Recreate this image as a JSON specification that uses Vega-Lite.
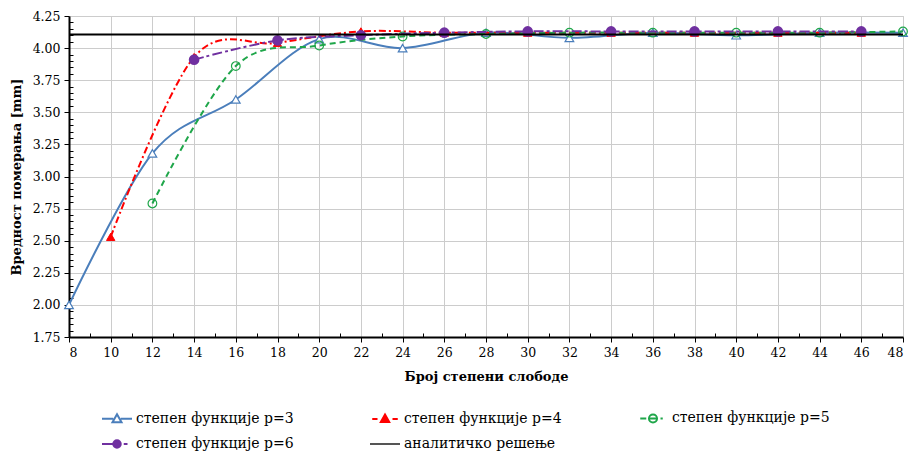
{
  "$schema": "https://vega.github.io/schema/vega-lite/v6.json",
  "width": 834,
  "height": 321,
  "autosize": {"type": "none"},
  "padding": {"left": 69, "top": 16, "right": 10, "bottom": 117},
  "background": "white",
  "data": {
    "values": [
      {"series": "степен функције p=3", "x": 8, "y": 2.0},
      {"series": "степен функције p=3", "x": 12, "y": 3.18},
      {"series": "степен функције p=3", "x": 16, "y": 3.6},
      {"series": "степен функције p=3", "x": 20, "y": 4.07},
      {"series": "степен функције p=3", "x": 24, "y": 4.0},
      {"series": "степен функције p=3", "x": 28, "y": 4.12},
      {"series": "степен функције p=3", "x": 32, "y": 4.08},
      {"series": "степен функције p=3", "x": 36, "y": 4.12},
      {"series": "степен функције p=3", "x": 40, "y": 4.1},
      {"series": "степен функције p=3", "x": 44, "y": 4.12},
      {"series": "степен функције p=3", "x": 48, "y": 4.12},
      {"series": "степен функције p=4", "x": 10, "y": 2.53},
      {"series": "степен функције p=4", "x": 14, "y": 3.93},
      {"series": "степен функције p=4", "x": 18, "y": 4.04},
      {"series": "степен функције p=4", "x": 22, "y": 4.13},
      {"series": "степен функције p=4", "x": 26, "y": 4.12},
      {"series": "степен функције p=4", "x": 30, "y": 4.12},
      {"series": "степен функције p=4", "x": 34, "y": 4.12},
      {"series": "степен функције p=4", "x": 38, "y": 4.12},
      {"series": "степен функције p=4", "x": 42, "y": 4.12},
      {"series": "степен функције p=4", "x": 46, "y": 4.12},
      {"series": "степен функције p=5", "x": 12, "y": 2.79},
      {"series": "степен функције p=5", "x": 16, "y": 3.86},
      {"series": "степен функције p=5", "x": 20, "y": 4.02},
      {"series": "степен функције p=5", "x": 24, "y": 4.09},
      {"series": "степен функције p=5", "x": 28, "y": 4.11},
      {"series": "степен функције p=5", "x": 32, "y": 4.12},
      {"series": "степен функције p=5", "x": 36, "y": 4.12},
      {"series": "степен функције p=5", "x": 40, "y": 4.12},
      {"series": "степен функције p=5", "x": 44, "y": 4.12},
      {"series": "степен функције p=5", "x": 48, "y": 4.13},
      {"series": "степен функције p=6", "x": 14, "y": 3.91},
      {"series": "степен функције p=6", "x": 18, "y": 4.06},
      {"series": "степен функције p=6", "x": 22, "y": 4.1},
      {"series": "степен функције p=6", "x": 26, "y": 4.12},
      {"series": "степен функције p=6", "x": 30, "y": 4.13},
      {"series": "степен функције p=6", "x": 34, "y": 4.13},
      {"series": "степен функције p=6", "x": 38, "y": 4.13},
      {"series": "степен функције p=6", "x": 42, "y": 4.13},
      {"series": "степен функције p=6", "x": 46, "y": 4.13},
      {"series": "аналитичко решење", "x": 8, "y": 4.105},
      {"series": "аналитичко решење", "x": 48, "y": 4.105}
    ]
  },
  "encoding": {
    "x": {
      "field": "x", "type": "quantitative",
      "scale": {"domain": [8, 48], "nice": false, "zero": false},
      "axis": {
        "title": "Број степени слободе",
        "values": [8,9,10,11,12,13,14,15,16,17,18,19,20,21,22,23,24,25,26,27,28,29,30,31,32,33,34,35,36,37,38,39,40,41,42,43,44,45,46,47,48],
        "labelExpr": "datum.value % 2 == 0 ? datum.label : ''",
        "tickSize": {"condition": {"test": "datum.value % 2 == 0", "value": 5}, "value": -4},
        "gridOpacity": {"condition": {"test": "datum.value % 2 == 0", "value": 1}, "value": 0},
        "labelPadding": 4,
        "titlePadding": 12
      }
    },
    "y": {
      "field": "y", "type": "quantitative",
      "scale": {"domain": [1.75, 4.25], "nice": false, "zero": false},
      "axis": {
        "title": "Вредност померања [mm]",
        "values": [1.75,1.8,1.85,1.9,1.95,2,2.05,2.1,2.15,2.2,2.25,2.3,2.35,2.4,2.45,2.5,2.55,2.6,2.65,2.7,2.75,2.8,2.85,2.9,2.95,3,3.05,3.1,3.15,3.2,3.25,3.3,3.35,3.4,3.45,3.5,3.55,3.6,3.65,3.7,3.75,3.8,3.85,3.9,3.95,4,4.05,4.1,4.15,4.2,4.25],
        "labelExpr": "abs(datum.value*4 - round(datum.value*4)) < 0.001 ? format(datum.value, '.2f') : ''",
        "tickSize": {"condition": {"test": "abs(datum.value*4 - round(datum.value*4)) < 0.001", "value": 5}, "value": -4},
        "gridOpacity": {"condition": {"test": "abs(datum.value*4 - round(datum.value*4)) < 0.001", "value": 1}, "value": 0},
        "labelPadding": 4,
        "titlePadding": 9
      }
    }
  },
  "layer": [
    {
      "transform": [{"filter": "datum.series == 'степен функције p=3'"}],
      "mark": {"type": "line", "interpolate": "cardinal", "color": "#4a7ebb", "strokeWidth": 2}
    },
    {
      "transform": [{"filter": "datum.series == 'степен функције p=3'"}],
      "mark": {"type": "point", "shape": "triangle-up", "filled": false, "fill": "white", "stroke": "#4a7ebb", "strokeWidth": 1.2, "size": 75, "opacity": 1}
    },
    {
      "transform": [{"filter": "datum.series == 'степен функције p=4'"}],
      "mark": {"type": "line", "interpolate": "cardinal", "color": "#ff0000", "strokeWidth": 2, "strokeDash": [7, 3, 2, 3]}
    },
    {
      "transform": [{"filter": "datum.series == 'степен функције p=4'"}],
      "mark": {"type": "point", "shape": "triangle-up", "filled": true, "fill": "#ff0000", "stroke": "#ff0000", "strokeWidth": 1, "size": 70, "opacity": 1}
    },
    {
      "transform": [{"filter": "datum.series == 'степен функције p=5'"}],
      "mark": {"type": "line", "interpolate": "cardinal", "color": "#1fa64a", "strokeWidth": 2, "strokeDash": [6, 4]}
    },
    {
      "transform": [{"filter": "datum.series == 'степен функције p=5'"}],
      "mark": {"type": "point", "shape": "circle", "filled": false, "stroke": "#1fa64a", "strokeWidth": 1.2, "size": 75, "opacity": 1}
    },
    {
      "transform": [{"filter": "datum.series == 'степен функције p=6'"}],
      "mark": {"type": "line", "interpolate": "cardinal", "color": "#7030a0", "strokeWidth": 2, "strokeDash": [10, 3, 3, 3]}
    },
    {
      "transform": [{"filter": "datum.series == 'степен функције p=6'"}],
      "mark": {"type": "point", "shape": "circle", "filled": true, "fill": "#7030a0", "stroke": "#7030a0", "size": 75, "opacity": 1}
    },
    {
      "transform": [{"filter": "datum.series == 'аналитичко решење'"}],
      "mark": {"type": "line", "color": "#000000", "strokeWidth": 2}
    },
    {
      "transform": [{"filter": "false"}],
      "mark": {"type": "point", "filled": false, "strokeWidth": 2, "size": 900, "opacity": 1},
      "encoding": {
        "stroke": {
          "field": "series", "type": "nominal",
          "scale": {
            "domain": ["степен функције p=3", "степен функције p=4", "степен функције p=5", "степен функције p=6", "аналитичко решење"],
            "range": ["#4a7ebb", "#ff0000", "#1fa64a", "#7030a0", "#555555"]
          }
        },
        "fill": {
          "field": "series", "type": "nominal",
          "scale": {
            "domain": ["степен функције p=3", "степен функције p=4", "степен функције p=5", "степен функције p=6", "аналитичко решење"],
            "range": ["white", "#ff0000", "transparent", "#7030a0", "transparent"]
          }
        },
        "shape": {
          "field": "series", "type": "nominal",
          "scale": {
            "domain": ["степен функције p=3", "степен функције p=4", "степен функције p=5", "степен функције p=6", "аналитичко решење"],
            "range": [
              "M-1,0H-0.25M0.25,0H1M0,-0.3L0.3,0.22L-0.3,0.22Z",
              "M-0.85,0H-0.5M0.5,0H0.85M0,-0.3L0.28,0.2L-0.28,0.2Z",
              "M-0.85,0H-0.45M0.5,0H0.65M-0.27,0H0.27M0.27,0A0.27,0.27 0 1,1 -0.27,0A0.27,0.27 0 1,1 0.27,0Z",
              "M-1,0H-0.25M0.45,0H0.7M0.25,0A0.25,0.25 0 1,1 -0.25,0A0.25,0.25 0 1,1 0.25,0Z",
              "M-1,0H1"
            ]
          }
        }
      }
    }
  ],
  "config": {
    "view": {"stroke": "#c8c8c8"},
    "font": "DejaVu Serif",
    "axis": {
      "labelFont": "DejaVu Serif",
      "labelFontSize": 12.5,
      "labelColor": "#000000",
      "titleFont": "DejaVu Serif",
      "titleFontSize": 13,
      "titleFontWeight": "bold",
      "titleColor": "#000000",
      "domainColor": "#000000",
      "domainWidth": 2,
      "tickColor": "#000000",
      "tickWidth": 1,
      "gridColor": "#cccccc",
      "gridWidth": 1
    },
    "legend": {
      "orient": "none",
      "legendX": 32,
      "legendY": 386,
      "direction": "horizontal",
      "columns": 3,
      "gridAlign": "all",
      "columnPadding": 72,
      "rowPadding": 1,
      "padding": 0,
      "title": null,
      "labelFont": "DejaVu Serif",
      "labelFontSize": 14,
      "labelColor": "#000000",
      "labelOffset": 3,
      "symbolSize": 900,
      "symbolStrokeWidth": 2,
      "labelLimit": 300
    }
  }
}
